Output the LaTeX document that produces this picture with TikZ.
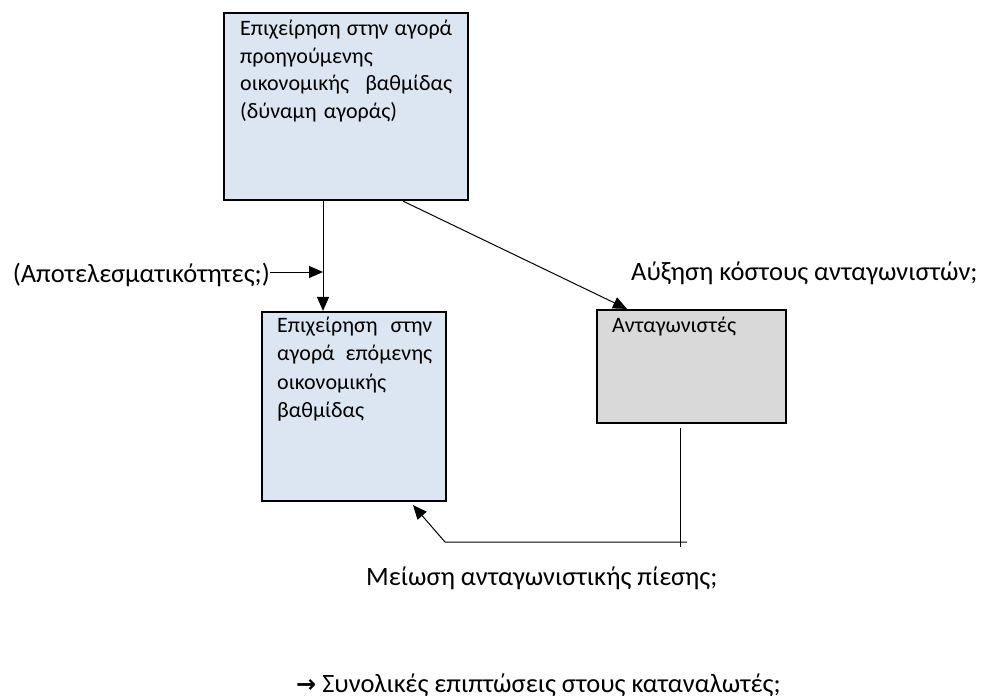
\documentclass[tikz,border=0pt]{standalone}
\usepackage{fontspec}
\setmainfont{Carlito}
\newfontfamily\arrowfont{DejaVu Sans}
\usetikzlibrary{arrows.meta}
\definecolor{boxblue}{HTML}{DCE6F2}
\definecolor{boxgray}{HTML}{D9D9D9}
\tikzset{
  box/.style={draw=black, line width=2.2pt, inner sep=0pt},
  boxtext/.style={anchor=base west, inner sep=0pt, align=left, font=\fontsize{22}{27.5}\selectfont},
  lbl/.style={anchor=base west, inner sep=0pt, font=\fontsize{26.5}{30}\selectfont},
  conn/.style={line width=1pt},
  arr/.style={conn, -{Triangle[length=14pt,width=12pt]}}
}
\begin{document}
\begin{tikzpicture}[x=1pt,y=-1pt]
\useasboundingbox (0,0) rectangle (981,697);
% boxes
\node[box, fill=boxblue, minimum width=244pt, minimum height=187pt] (top) at (346,106.5) {};
\node[box, fill=boxblue, minimum width=184pt, minimum height=189pt] (lb) at (354,406.5) {};
\node[box, fill=boxgray, minimum width=189pt, minimum height=113pt] (gr) at (691.5,366.5) {};
% box texts
\node[boxtext, text width=212pt] (toptext) at (240,35.5) {\makebox[212pt]{Επιχείρηση\hfill στην\hfill αγορά}\\ προηγούμενης\\ \makebox[212pt]{οικονομικής\hfill βαθμίδας}\\ (δύναμη αγοράς)};
\node[boxtext, text width=155pt, font=\fontsize{22}{28.5}\selectfont] (lbtext) at (277,332) {\makebox[155pt]{Επιχείρηση\hfill στην}\\ \makebox[155pt]{αγορά\hfill επόμενης}\\ οικονομικής\\ βαθμίδας};
\node[boxtext] (grtext) at (612,332) {Ανταγωνιστές};
% labels
\node[lbl, anchor=base east] (eff) at (270,282) {(Αποτελεσματικότητες;)};
\node[lbl] (cost) at (631,280) {Αύξηση κόστους ανταγωνιστών;};
\node[lbl] (press) at (366,585) {Μείωση ανταγωνιστικής πίεσης;};
\node[lbl] (cons) at (296,692) {{\arrowfont\bfseries\fontsize{24}{28}\selectfont →} Συνολικές επιπτώσεις στους καταναλωτές;};
% connectors
\coordinate (j) at (323,272);
\coordinate (f0) at (680,547);
\coordinate (f1) at (687,542);
\coordinate (f2) at (445,542);
\draw[arr] ([xshift=-23pt]top.south) -- ([xshift=-31pt]lb.north);
\draw[arr] (eff.east |- j) -- (j);
\draw[arr] ([xshift=57pt]top.south) -- ([xshift=-64.5pt]gr.north);
\draw[conn] ([xshift=-11.5pt,yshift=-4pt]gr.south) -- (f0);
\draw[arr] (f1) -- (f2) -- ([xshift=59pt,yshift=-3pt]lb.south);
\end{tikzpicture}
\end{document}
